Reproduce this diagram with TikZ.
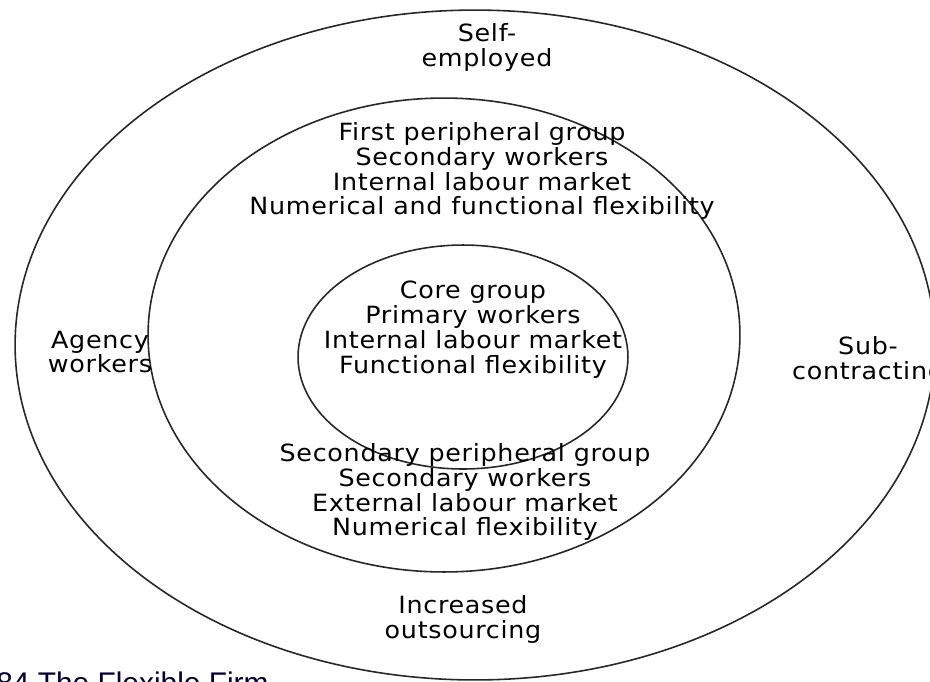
\documentclass[tikz,border=0pt]{standalone}
\usepackage{fontspec}
\setmainfont{DejaVu Sans}[LetterSpace=3, FakeStretch=1.07]
\newfontfamily\capfont{Liberation Sans}
\tikzset{ring/.style={line width=0.9pt, black!85},
  txt/.style={align=center, inner sep=0pt, font=\fontsize{13.5}{14.2}\selectfont}}

\begin{document}
\begin{tikzpicture}[x=0.02cm, y=-0.02cm]

  % <frame>
  \useasboundingbox (0,0) rectangle (930,681);
  % </frame>

  % rings
  \draw[ring] (475,345) ellipse [x radius=9.2cm, y radius=6.7cm];
  \draw[ring] (444,335) ellipse [x radius=5.92cm, y radius=4.74cm];
  \draw[ring] (463,357) ellipse [x radius=3.3cm, y radius=2.24cm];

  % labels
  \node[txt] (self)   at (487, 47)  {Self-\\employed};
  \node[txt] (first)  at (482, 171) {First peripheral group\\Secondary workers\\Internal labour market\\Numerical and functional flexibility};
  \node[txt] (core)   at (473, 330) {Core group\\Primary workers\\Internal labour market\\Functional flexibility};
  \node[txt] (agency) at (100, 352) {Agency\\workers};
  \node[txt] (sub)    at (868, 360) {Sub-\\contracting};
  \node[txt] (second) at (465, 492) {Secondary peripheral group\\Secondary workers\\External labour market\\Numerical flexibility};
  \node[txt] (outs)   at (463, 619) {Increased\\outsourcing};

  % caption, cut by the frame
  \node[anchor=base west, inner sep=0pt, font=\capfont\fontsize{17}{20}\selectfont, text=black!80!blue]
    (cap) at (-4, 693) {84 The Flexible Firm};

\end{tikzpicture}
\end{document}
